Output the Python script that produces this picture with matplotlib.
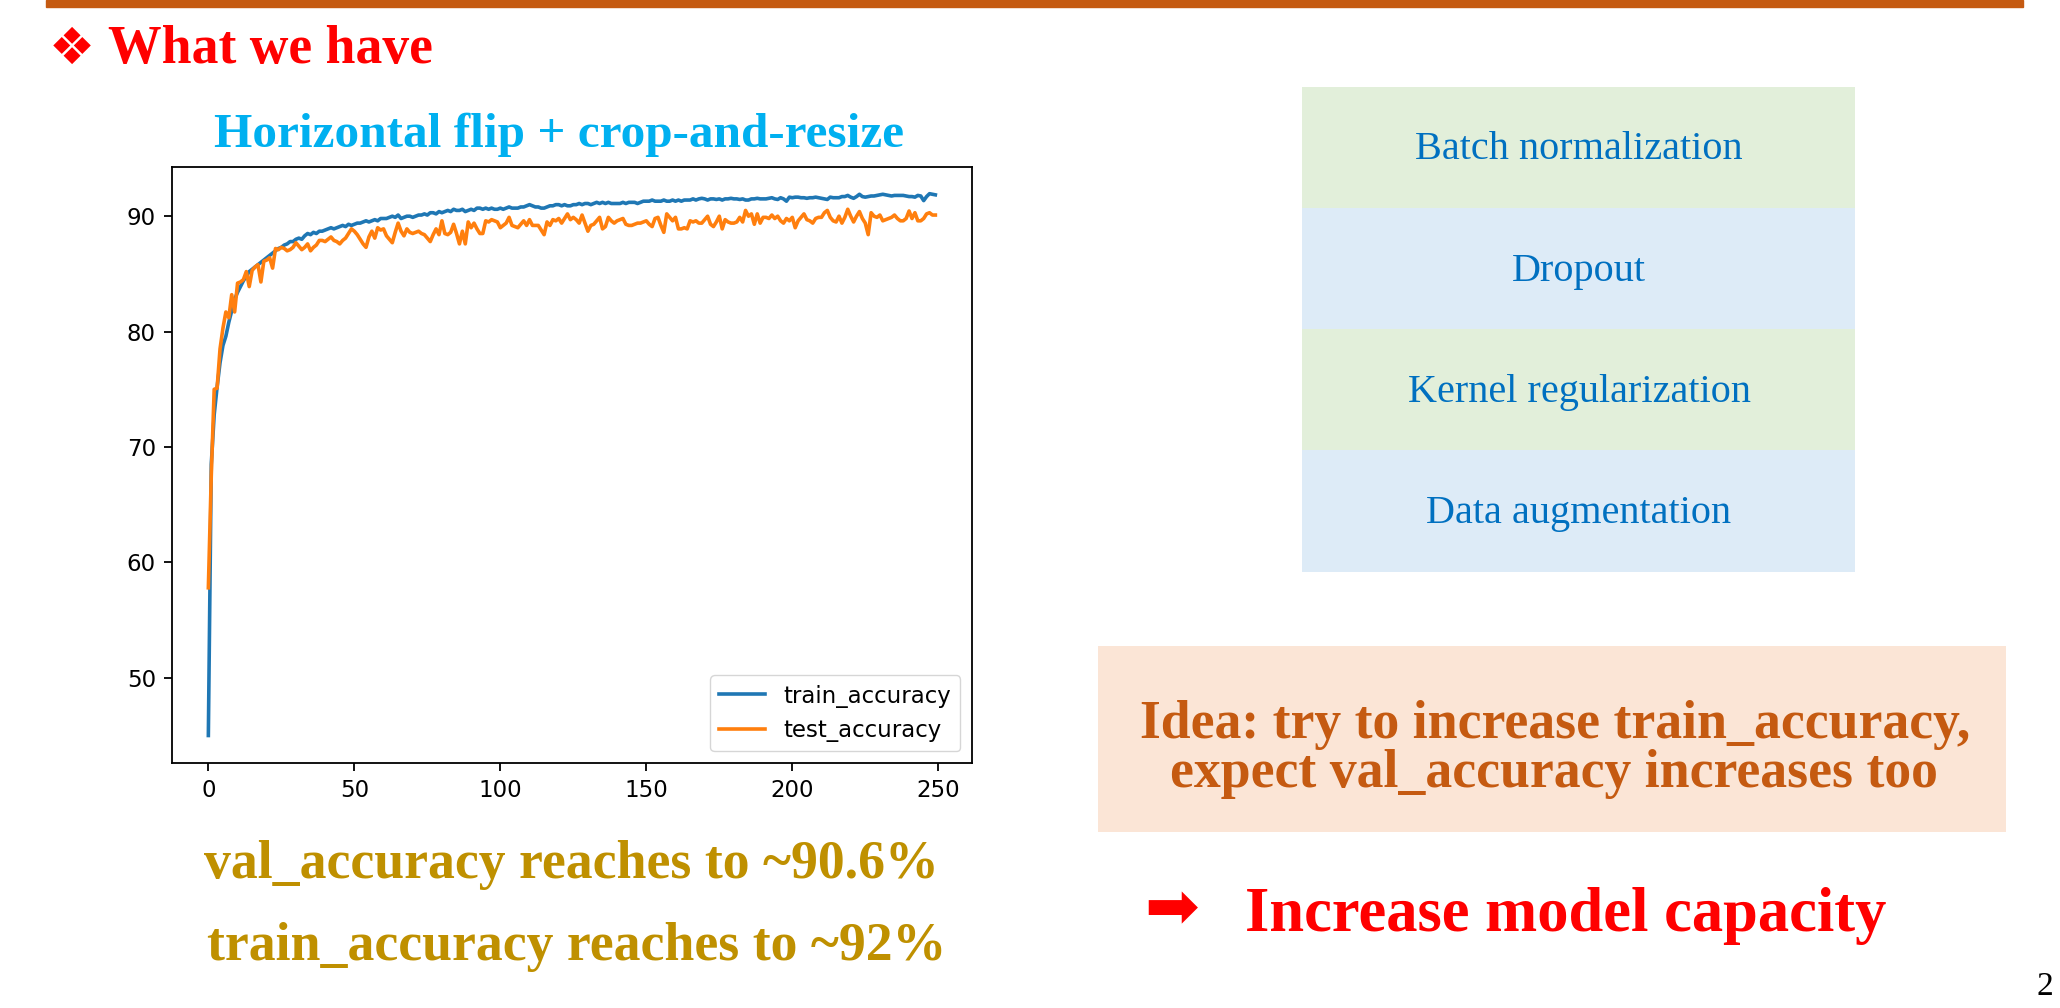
import matplotlib
matplotlib.use("Agg")
import matplotlib.pyplot as plt
from matplotlib.patches import Rectangle

# accuracy per epoch
train_accuracy = [
    45.0, 68.5, 72.8, 75.2, 77.3, 78.8, 79.6, 80.8, 81.8, 82.8,
    83.4, 83.9, 84.4, 84.8, 85.2, 85.4, 85.6, 85.8, 86.0, 86.2,
    86.4, 86.6, 86.8, 87.0, 87.2, 87.3, 87.5, 87.6, 87.8, 87.8,
    88.0, 88.1, 88.0, 88.3, 88.5, 88.4, 88.6, 88.5, 88.7, 88.7,
    88.8, 88.9, 89.0, 88.9, 89.0, 89.1, 89.2, 89.1, 89.3, 89.2,
    89.3, 89.4, 89.4, 89.5, 89.6, 89.5, 89.6, 89.7, 89.6, 89.8,
    89.8, 89.8, 89.9, 90.0, 89.9, 90.1, 89.8, 89.9, 90.0, 90.0,
    89.9, 90.0, 90.1, 90.1, 90.2, 90.1, 90.3, 90.3, 90.2, 90.4,
    90.3, 90.4, 90.5, 90.4, 90.6, 90.5, 90.5, 90.6, 90.4, 90.5,
    90.6, 90.5, 90.7, 90.7, 90.6, 90.7, 90.6, 90.7, 90.6, 90.6,
    90.7, 90.6, 90.7, 90.8, 90.7, 90.7, 90.7, 90.8, 90.8, 90.9,
    91.0, 90.9, 90.8, 90.8, 90.7, 90.7, 90.8, 90.9, 90.9, 91.0,
    91.0, 90.9, 91.0, 90.9, 90.9, 91.0, 91.0, 91.1, 91.0, 91.1,
    91.1, 91.0, 91.1, 91.2, 91.1, 91.2, 91.1, 91.2, 91.1, 91.1,
    91.1, 91.1, 91.2, 91.1, 91.2, 91.2, 91.2, 91.1, 91.2, 91.3,
    91.3, 91.3, 91.4, 91.3, 91.3, 91.3, 91.4, 91.3, 91.3, 91.4,
    91.3, 91.4, 91.3, 91.4, 91.4, 91.4, 91.5, 91.4, 91.5, 91.55,
    91.5, 91.4, 91.5, 91.5, 91.45, 91.5, 91.4, 91.5, 91.5, 91.55,
    91.5, 91.5, 91.45, 91.5, 91.4, 91.4, 91.5, 91.5, 91.55, 91.5,
    91.5, 91.5, 91.55, 91.6, 91.5, 91.45, 91.6, 91.5, 91.3, 91.65,
    91.6, 91.65, 91.65, 91.6, 91.6, 91.55, 91.6, 91.6, 91.65, 91.6,
    91.55, 91.5, 91.45, 91.65, 91.6, 91.6, 91.6, 91.7, 91.7, 91.8,
    91.65, 91.55, 91.7, 91.9, 91.7, 91.65, 91.7, 91.75, 91.75, 91.8,
    91.85, 91.9, 91.85, 91.8, 91.75, 91.8, 91.8, 91.8, 91.8, 91.75,
    91.7, 91.7, 91.65, 91.8, 91.75, 91.35, 91.7, 91.95, 91.9, 91.85,
]
test_accuracy = [
    57.8, 67.5, 75.0, 75.1, 78.5, 80.3, 81.7, 81.2, 83.2, 81.7,
    84.2, 84.3, 84.5, 85.2, 83.9, 85.3, 85.6, 85.8, 84.3, 86.1,
    86.2, 86.4, 85.5, 87.2, 87.1, 87.3, 87.2, 87.0, 87.1, 87.3,
    87.7, 87.4, 87.1, 87.3, 87.6, 87.0, 87.3, 87.5, 87.9, 87.9,
    87.8, 88.0, 88.2, 87.9, 87.8, 87.6, 87.9, 88.1, 88.5, 88.9,
    88.7, 88.4, 88.0, 87.6, 87.3, 88.2, 88.7, 88.1, 89.0, 88.8,
    88.9, 88.3, 88.0, 87.7, 88.6, 89.4, 88.7, 88.3, 88.9, 88.6,
    88.5, 88.6, 88.7, 88.5, 88.4, 88.1, 87.8, 88.4, 88.9, 88.4,
    89.6, 88.5, 88.4, 88.6, 89.3, 88.5, 87.6, 88.7, 87.6, 89.5,
    89.0, 89.4, 88.9, 88.5, 88.5, 89.6, 89.5, 89.7, 89.6, 89.5,
    89.0, 89.2, 89.4, 89.9, 89.2, 89.1, 89.0, 89.3, 89.6, 89.2,
    89.7, 89.2, 89.2, 89.2, 88.8, 88.4, 89.5, 89.2, 89.7, 89.6,
    89.8, 89.4, 89.8, 90.2, 89.7, 89.9, 89.7, 89.4, 90.1, 89.4,
    88.7, 89.2, 89.3, 89.6, 89.9, 88.9, 89.1, 89.9, 89.6, 89.4,
    89.6, 89.7, 89.8, 89.3, 89.2, 89.2, 89.3, 89.4, 89.4, 89.5,
    89.6, 89.3, 89.1, 89.8, 89.9, 89.2, 88.6, 90.2, 89.9, 89.6,
    89.9, 88.9, 88.9, 89.0, 88.9, 89.6, 89.5, 89.6, 89.4, 89.4,
    89.7, 90.0, 89.3, 89.1, 89.5, 90.0, 88.9, 89.7, 89.5, 89.4,
    89.4, 89.5, 89.9, 89.5, 90.5, 90.0, 90.2, 89.3, 90.2, 89.4,
    89.9, 89.9, 89.8, 90.1, 89.8, 90.0, 89.6, 89.4, 89.8, 89.6,
    89.9, 89.0, 89.6, 89.9, 90.2, 89.7, 89.6, 89.4, 89.8, 89.9,
    89.9, 90.3, 90.5, 89.9, 89.6, 89.5, 90.0, 89.4, 89.9, 90.6,
    90.0, 89.5, 90.0, 90.4, 89.8, 89.4, 88.4, 90.3, 90.0, 89.9,
    90.1, 89.6, 89.7, 89.8, 89.9, 90.1, 89.8, 89.6, 89.6, 89.8,
    90.45, 89.8, 90.3, 89.6, 89.6, 89.8, 90.2, 90.3, 90.1, 90.1,
]
epochs = list(range(len(train_accuracy)))

table_rows = ["Batch normalization", "Dropout", "Kernel regularization", "Data augmentation"]
row_colors = ["#E2EFDA", "#DDEBF7", "#E2EFDA", "#DDEBF7"]

W, H = 2060, 1008
fig = plt.figure(figsize=(W / 100, H / 100), dpi=100)

# the embedded training plot
ax = fig.add_axes([172 / W, 1 - 762.6 / H, (971.7 - 172) / W, (762.6 - 166.6) / H])
ax.plot(epochs, train_accuracy, color="#1f77b4", lw=2.6, label="train_accuracy")
ax.plot(epochs, test_accuracy, color="#ff7f0e", lw=2.6, label="test_accuracy")
ax.tick_params(labelsize=16.5, width=1.3, length=5.8, pad=5.8)
for s in ax.spines.values():
    s.set_linewidth(1.3)
ax.legend(loc="lower right", fontsize=16.5)

# slide overlay in pixel coords
ov = fig.add_axes([0, 0, 1, 1], zorder=-1)
ov.set_xlim(0, W)
ov.set_ylim(H, 0)
ov.axis("off")

serif = ["Liberation Serif", "DejaVu Sans"]

ov.add_patch(Rectangle((46, 0), 1977, 6.5, color="#C55A11"))
ov.text(49, 64, "\u2756", color="red", fontsize=37, family=serif, va="baseline")
ov.text(108, 63, "What we have", color="red", fontsize=38.6, family=serif,
        weight="bold", va="baseline")

ov.text(559, 147, "Horizontal flip + crop-and-resize", color="#00B0F0",
        fontsize=35.5, family=serif, weight="bold", ha="center", va="baseline")

ov.text(571, 878, "val_accuracy reaches to ~90.6%", color="#BF9000",
        fontsize=38.7, family=serif, weight="bold", ha="center", va="baseline")
ov.text(577, 960, "train_accuracy reaches to ~92%", color="#BF9000",
        fontsize=38.7, family=serif, weight="bold", ha="center", va="baseline")

# technique table
row_top = 86.7
row_h = (571.5 - 86.7) / len(table_rows)
for i, (name, c) in enumerate(zip(table_rows, row_colors)):
    y0 = row_top + i * row_h
    ov.add_patch(Rectangle((1302, y0), 553, row_h, color=c, lw=0))
    ov.text(1579, y0 + row_h / 2 + 12, name, color="#0070C0", fontsize=29,
            family=serif, ha="center", va="baseline")

# idea box
ov.add_patch(Rectangle((1098, 646), 908, 186, color="#FBE5D6", lw=0))
ov.text(1555, 738, "Idea: try to increase train_accuracy,", color="#C55A11",
        fontsize=38.7, family=serif, weight="bold", ha="center", va="baseline")
ov.text(1554, 787, "expect val_accuracy increases too", color="#C55A11",
        fontsize=38.7, family=serif, weight="bold", ha="center", va="baseline")

ov.text(1144, 928, "\u27A1", color="red", fontsize=47, family=serif, va="baseline")
ov.text(1245, 931, "Increase model capacity", color="red", fontsize=45,
        family=serif, weight="bold", va="baseline")

ov.text(2036, 995, "2", color="black", fontsize=24, family=serif, va="baseline")

fig.savefig("out.png", dpi=100)
